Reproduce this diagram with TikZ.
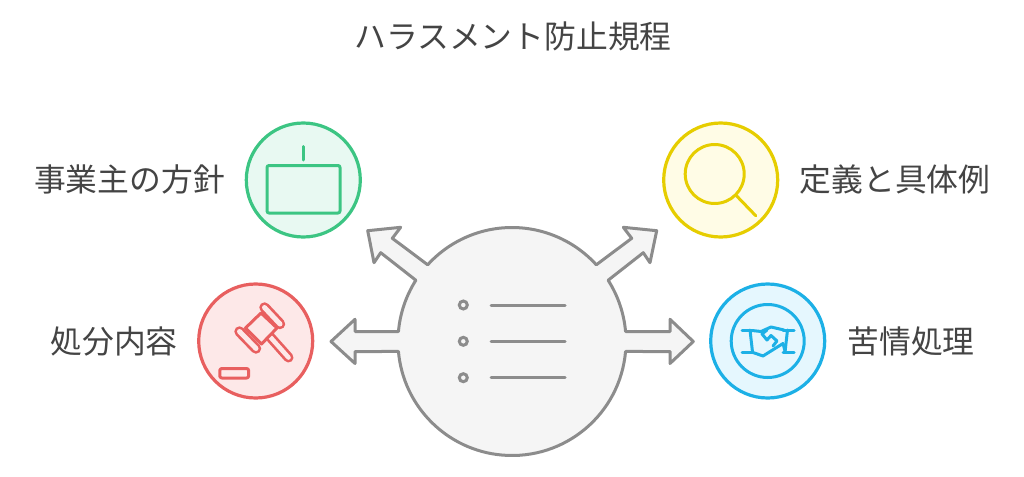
\documentclass[tikz,border=0pt]{standalone}
\usepackage{fontspec}
\usetikzlibrary{calc}
\setmainfont{Noto Sans CJK JP}
\definecolor{blobline}{HTML}{8C8C8C}
\definecolor{blobfill}{HTML}{F5F5F5}
\definecolor{gline}{HTML}{3CC583}
\definecolor{gfill}{HTML}{E8F9F2}
\definecolor{yline}{HTML}{E6CD00}
\definecolor{yfill}{HTML}{FFFCE6}
\definecolor{rline}{HTML}{E85F5F}
\definecolor{rfill}{HTML}{FDE8E8}
\definecolor{bline}{HTML}{1CB0E6}
\definecolor{bfill}{HTML}{E5F7FE}
\definecolor{txt}{HTML}{444444}
\tikzset{
  label text/.style={inner sep=0pt,text=txt,font=\fontsize{31.8pt}{36pt}\selectfont},
  disc/.style={circle,inner sep=0pt,minimum size=114pt,line width=3.2pt},
  icon/.style={line width=3pt,line cap=round,line join=round},
  blob/.style={line width=3pt,line join=round,draw=blobline,fill=blobfill},
  bul/.style={line width=3pt,line cap=round,draw=blobline}
}
\begin{document}
\begin{tikzpicture}[x=1pt,y=-1pt]
\useasboundingbox (0,0) rectangle (1024,476);
\coordinate (c) at (512,341.5);
\draw[blob] ($(c)+(137.7:114pt)$) arc[start angle=137.7,end angle=42.3,radius=114pt]
  -- (631.7,238.3) -- (623.3,227.3) -- (656.7,230.7) -- (650,262.7) -- (643.3,252.7)
  -- ($(c)+(32.5:114pt)$) arc[start angle=32.5,end angle=5.03,radius=114pt]
  -- (670,331.5) -- (670,319.3) -- (693.3,341.5) -- (670,363.5) -- (670,351.5)
  -- ($(c)+(-5.03:114pt)$) arc[start angle=-5.03,end angle=-174.97,radius=114pt]
  -- (355,351.5) -- (355,363.5) -- (331,341.5) -- (355,319.3) -- (355,331.5)
  -- ($(c)+(174.97:114pt)$) arc[start angle=174.97,end angle=147.5,radius=114pt]
  -- (380.7,252.7) -- (374,262.7) -- (367.7,230.7) -- (400.7,227.3) -- (392.3,238.3) -- cycle;
\foreach \yy in {305,341.3,377.7}{
  \draw[bul] (463.3,\yy) circle[radius=4pt];
  \draw[bul] (491,\yy) -- (565,\yy);
}
% green
\node[disc,draw=gline,fill=gfill] (green) at (303.3,180) {};
\draw[icon,draw=gline,rounded corners=2pt] (267,165.5) rectangle (340,213);
\draw[icon,draw=gline] (303.3,146.5) -- (303.3,160);
% yellow
\node[disc,draw=yline,fill=yfill] (yellow) at (720.7,180) {};
\draw[icon,draw=yline] (714.7,174) circle[radius=29.5pt];
\draw[icon,draw=yline] (736.7,196) -- (755.7,215.7);
% red
\node[disc,draw=rline,fill=rfill] (red) at (255.7,341) {};
\draw[icon,draw=rline,rounded corners=2pt] (219.8,368.5) rectangle (248.6,378);
\draw[line width=10pt,line cap=round,draw=rline] (268,334.5) -- (288.5,357.5);
\draw[line width=4.6pt,line cap=round,draw=rfill] (268,334.5) -- (288.5,357.5);
\draw[icon,draw=rline,fill=rfill] (261,313) -- (245.5,328) -- (261.5,344) -- (277,328) -- cycle;
\foreach \ax/\ay/\bx/\by in {264.5/307.5/280/324,239.5/331.5/256/348.5}{
  \draw[line width=10.5pt,line cap=round,draw=rline] (\ax,\ay) -- (\bx,\by);
  \draw[line width=5pt,line cap=round,draw=rfill] (\ax,\ay) -- (\bx,\by);
}
% blue
\node[disc,draw=bline,fill=bfill] (blue) at (767.7,341) {};
\draw[icon,draw=bline] (767.7,341) circle[radius=36.5pt];
\begin{scope}[icon,draw=bline]
  \draw (742,330) -- (752,330);
  \draw (742,352.5) -- (753,352.5);
  \draw (750,330) -- (752.5,352);
  \draw (783,330) -- (794,330);
  \draw (783,352.5) -- (794,352.5);
  \draw (787.5,330) -- (785,352);
  \draw (752,330.5) -- (761,331.5) -- (771,327) -- (784,330);
  \draw (753,352.5) -- (763,356) -- (783,343.5) -- (785,351);
  \draw (767,330) -- (762,334) -- (767,340) -- (771,335.5) -- (777,341) -- (773,346);
\end{scope}
% text
\node[label text] (title) at (513,36) {ハラスメント防止規程};
\node[label text] (t1) at (129.5,179) {事業主の方針};
\node[label text] (t2) at (895,179) {定義と具体例};
\node[label text] (t3) at (114,341) {処分内容};
\node[label text] (t4) at (911,341) {苦情処理};
\end{tikzpicture}
\end{document}
